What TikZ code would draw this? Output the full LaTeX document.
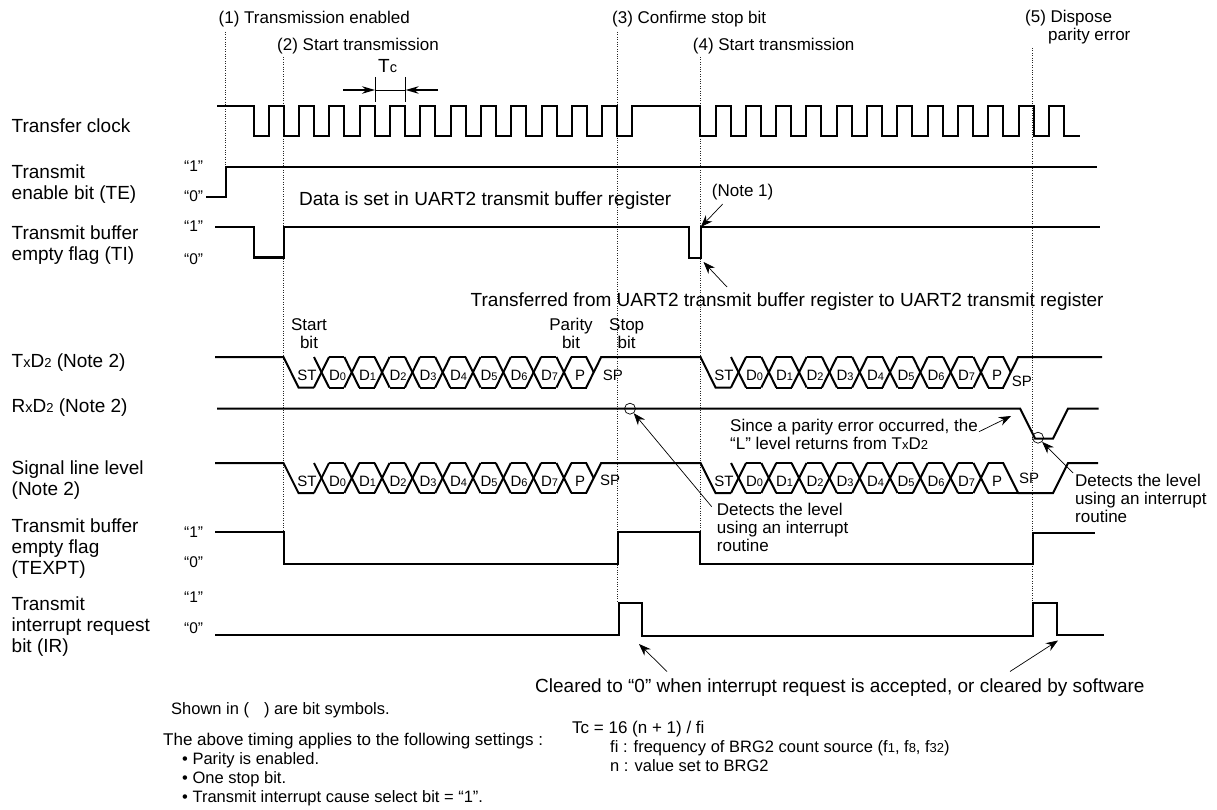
\documentclass[tikz,border=0pt]{standalone}
\usepackage{fontspec}
\setmainfont{Liberation Sans}
\usetikzlibrary{arrows.meta}
\newcommand{\fnt}[1]{\fontsize{#1}{#1}\selectfont}
\newcommand{\smb}[1]{{\fontsize{11}{11}\selectfont #1}}
\newcommand{\sml}[1]{{\fontsize{14.5}{14.5}\selectfont #1}}
\newcommand{\smn}[1]{{\fontsize{13}{13}\selectfont #1}}
\tikzset{
 wave/.style={line width=2pt,line join=miter,line cap=butt},
 guide/.style={line width=0.8pt,dash pattern=on 1pt off 1.4pt,black!85},
 thinline/.style={line width=0.7pt},
 pointer/.style={line width=0.7pt,-{Stealth[length=12pt,width=9pt]}},
 tcarrow/.style={line width=1.2pt,-{Stealth[length=13pt,width=7.5pt]}},
 lab/.style={inner sep=0pt,anchor=base west,font=\fontsize{19}{21}\selectfont,align=left},
 note/.style={inner sep=0pt,anchor=base west,font=\fontsize{17}{18}\selectfont,align=left},
 foot/.style={inner sep=0pt,anchor=base west,font=\fontsize{16.5}{16.5}\selectfont},
 footb/.style={inner sep=0pt,anchor=base west,font=\fnt{17}},
 cbit/.style={inner sep=0pt,anchor=base,font=\fontsize{17}{17.5}\selectfont,align=center},
 lvl/.style={inner sep=0pt,anchor=base west,font=\fnt{15.5}},
 bitname/.style={inner sep=0pt,anchor=base,font=\fnt{15}},
 detect/.style={draw,line width=0.7pt,circle,minimum size=11pt,inner sep=0pt}
}
% #1 y-top, #2 y-bottom, #3 first crossing centre: crossings 0..8 and the rails between them
\newcommand{\cells}[3]{%
 \foreach \k in {0,...,8}{%
   \pgfmathsetmacro{\ca}{#3+30.3*\k}
   \pgfmathsetmacro{\cb}{#3+30.3*(\k+1)}
   \draw[wave] (\ca-7.5,#2) -- (\ca+7.5,#1);
   \draw[wave] (\ca-7.5,#1) -- (\ca+7.5,#2);
   \draw[wave] (\ca+7.5,#2) -- (\cb-7.5,#2);
   \draw[wave] (\ca+7.5,#1) -- (\cb-7.5,#1);
 }%
}
\newcommand{\cellnames}[2]{% #1 baseline y, #2 first crossing centre
 \node[bitname] at (#2-14.5,#1) {ST};
 \node[bitname] at (#2+16,#1) {D\smb{0}};
 \node[bitname] at (#2+46,#1) {D\smb{1}};
 \node[bitname] at (#2+76.5,#1) {D\smb{2}};
 \node[bitname] at (#2+106.5,#1) {D\smb{3}};
 \node[bitname] at (#2+137,#1) {D\smb{4}};
 \node[bitname] at (#2+167.5,#1) {D\smb{5}};
 \node[bitname] at (#2+197.5,#1) {D\smb{6}};
 \node[bitname] at (#2+228,#1) {D\smb{7}};
 \node[bitname] at (#2+258.5,#1) {P};
}
\begin{document}
\begin{tikzpicture}[x=1pt,y=-1pt]
\useasboundingbox (0,0) rectangle (1217,810);
\fill[white] (0,0) rectangle (1217,810);
% guides
\draw[guide] (225.6,32) -- (225.6,167);
\draw[guide] (283.4,57) -- (283.4,562);
\draw[guide] (617.5,32) -- (617.5,603);
\draw[guide] (700.3,57) -- (700.3,532);
\draw[guide] (1032.7,48) -- (1032.7,603);
% headers
\node[note] (h1) at (218.5,24) {(1) Transmission enabled};
\node[note] (h2) at (277,51) {(2) Start transmission};
\node[note] (h3) at (612,24) {(3) Confirme stop bit};
\node[note] (h4) at (692.7,51) {(4) Start transmission};
\node[note] (h5) at (1025,23) {(5) Dispose};
\node[note] (h5b) at (1048,41) {parity error};
% Tc
\node[lab] (tc) at (378,73) {T\sml{c}};
\coordinate (tcl) at (375,90); \coordinate (tcr) at (405.7,90);
\coordinate (tcla) at (343,90); \coordinate (tcra) at (438,90);
\draw[thinline] (375,77) -- (375,102);
\draw[thinline] (405.7,77) -- (405.7,102);
\draw[thinline] (tcl) -- (tcr);
\draw[tcarrow] (tcla) -- (tcl);
\draw[tcarrow] (tcra) -- (tcr);
% clock
\draw[wave] (217,106.5)
 \foreach \k in {0,...,12}{ -- ({253.5+30.3*\k},106.5) -- ({253.5+30.3*\k},136.5) -- ({268.8+30.3*\k},136.5) -- ({268.8+30.3*\k},106.5) }
 \foreach \k in {0,...,11}{ -- ({700.2+30.3*\k},106.5) -- ({700.2+30.3*\k},136.5) -- ({715.5+30.3*\k},136.5) -- ({715.5+30.3*\k},106.5) }
 -- (1064.4,106.5) -- (1064.4,136.5) -- (1080,136.5);
% TE
\draw[wave] (206,197) -- (226,197) -- (226,167) -- (1097,167);
% TI
\draw[wave] (215,227.5) -- (253.5,227.5) -- (253.5,257.5) -- (283.5,257.5) -- (283.5,227.5) -- (689,227.5) -- (689,258) -- (700.5,258) -- (700.5,227.5) -- (1100,227.5);
% row labels
\node[lab] (l1) at (11.5,133) {Transfer clock};
\node[lab] (l2) at (11.5,200) {Transmit\\enable bit (TE)};
\node[lab] (l3) at (11.5,261) {Transmit buffer\\empty flag (TI)};
\node[lab] (l4) at (11.5,367) {T\sml{x}D\smn{2} (Note 2)};
\node[lab] (l5) at (11.5,412) {R\sml{x}D\smn{2} (Note 2)};
\node[lab] (l6) at (11.5,495) {Signal line level\\(Note 2)};
\node[lab] (l7) at (11.5,574) {Transmit buffer\\empty flag\\(TEXPT)};
\node[lab] (l8) at (11.5,652) {Transmit\\interrupt request\\bit (IR)};
% levels
\node[lvl] (v1) at (184,172) {“1”};
\node[lvl] (v2) at (184,202) {“0”};
\node[lvl] (v3) at (184,232) {“1”};
\node[lvl] (v4) at (184,265) {“0”};
\node[lvl] (v5) at (184,537) {“1”};
\node[lvl] (v6) at (184,567) {“0”};
\node[lvl] (v7) at (184,602) {“1”};
\node[lvl] (v8) at (184,633) {“0”};
% annotations
\node[lab] (data) at (299,206) {Data is set in UART2 transmit buffer register};
\node[note] (n1) at (711.7,197) {(Note 1)};
\node[lab] (xfer) at (470.5,306) {Transferred from UART2 transmit buffer register to UART2 transmit register};
\coordinate (n1t) at (722.7,204); \coordinate (n1h) at (700.8,227);
\coordinate (xft) at (727,287); \coordinate (xfh) at (703.5,262);
\draw[pointer] (n1t) -- (n1h);
\draw[pointer] (xft) -- (xfh);
% bit captions
\node[cbit] (sb) at (309,348) {Start\\bit};
\node[cbit] (pb) at (571,348) {Parity\\bit};
\node[cbit] (stb) at (626.7,348) {Stop\\bit};
% TxD
\draw[wave] (215,357) -- (283.5,357) -- (298.5,387.5) -- (314,387.5);
\cells{357}{387.5}{321.5}
\draw[wave] (586.2,387.5) -- (601.2,357) -- (700.5,357) -- (715.5,387.5) -- (731,387.5);
\draw[wave] (586.2,357) -- (593.7,372.2);
\cells{357}{387.5}{738.5}
\draw[wave] (1003.2,387.5) -- (1018.2,357) -- (1102,357);
\draw[wave] (1003.2,357) -- (1010.7,372.2);
\cellnames{380.7}{321.5}
\cellnames{380.7}{738.5}
\node[bitname,anchor=base west] (sp1) at (602.7,380.7) {SP};
\node[bitname,anchor=base west] (sp2) at (1011.7,386.7) {SP};
% RxD
\draw[wave] (217,408.5) -- (1020,408.5) -- (1035,438.5) -- (1053,438.5) -- (1068,408.5) -- (1098.5,408.5);
\node[detect] (c1) at (630,408.7) {};
\node[detect] (c2) at (1038,437.7) {};
\coordinate (d1t) at (711.7,506.7);
\coordinate (d2t) at (1073,473);
\draw[pointer] (d1t) -- (c1);
\draw[pointer] (d2t) -- (c2);
\node[note] (since) at (730,449) {Since a parity error occurred, the\\“L” level returns from T\smn{x}D\smn{2}};
\coordinate (st) at (979,431.7); \coordinate (sh) at (1011,416);
\draw[pointer] (st) -- (sh);
\node[note] (d1) at (716.7,551.6) {Detects the level\\using an interrupt\\routine};
\node[note] (d2) at (1075,522) {Detects the level\\using an interrupt\\routine};
% Signal line level
\draw[wave] (215,463) -- (283.5,463) -- (298.5,493) -- (314,493);
\cells{463}{493}{321.5}
\draw[wave] (586.2,493) -- (601.2,463) -- (700.5,463) -- (715.5,493) -- (731,493);
\draw[wave] (586.2,463) -- (593.7,478);
\cells{463}{493}{738.5}
\draw[wave] (1003.2,463) -- (1018.2,493) -- (1053,493) -- (1068,463) -- (1098,463);
\draw[wave] (1003.2,493) -- (1018.2,493);
\cellnames{486}{321.5}
\cellnames{486}{738.5}
\node[bitname,anchor=base west] (sp3) at (600,485) {SP};
\node[bitname,anchor=base west] (sp4) at (1019,483) {SP};
% TEXPT
\draw[wave] (215,532) -- (283.5,532) -- (283.5,563.5) -- (617.5,563.5) -- (617.5,532) -- (700,532) -- (700,563.5) -- (1032.5,563.5) -- (1032.5,533) -- (1095,533);
% IR
\draw[wave] (215,635) -- (618.5,635) -- (618.5,602.5) -- (642,602.5) -- (642,635.5) -- (1033,635.5) -- (1033,602.5) -- (1057,602.5) -- (1057,634.5) -- (1104,634.5);
\coordinate (c1t) at (667,671.5); \coordinate (c1h) at (639,644);
\coordinate (c2t) at (1010,671.5); \coordinate (c2h) at (1058,640.5);
\draw[pointer] (c1t) -- (c1h);
\draw[pointer] (c2t) -- (c2h);
\node[lab] (clr) at (535,692) {Cleared to “0” when interrupt request is accepted, or cleared by software};
% footer
\node[foot] (f1) at (171,714) {Shown in (\hspace{15pt}) are bit symbols.};
\node[footb] (f2) at (163,745) {The above timing applies to the following settings :};
\node[foot] (f3) at (182,764) {• Parity is enabled.};
\node[foot] (f4) at (182,783) {• One stop bit.};
\node[foot] (f5) at (182,802) {• Transmit interrupt cause select bit = “1”.};
\node[footb] (f6) at (572,733) {Tc = 16 (n + 1) / fi};
\node[foot] (f7) at (610,752) {fi : frequency of BRG2 count source (f\smn{1}, f\smn{8}, f\smn{32})};
\node[foot] (f8) at (610,771) {n : value set to BRG2};
\end{tikzpicture}
\end{document}
